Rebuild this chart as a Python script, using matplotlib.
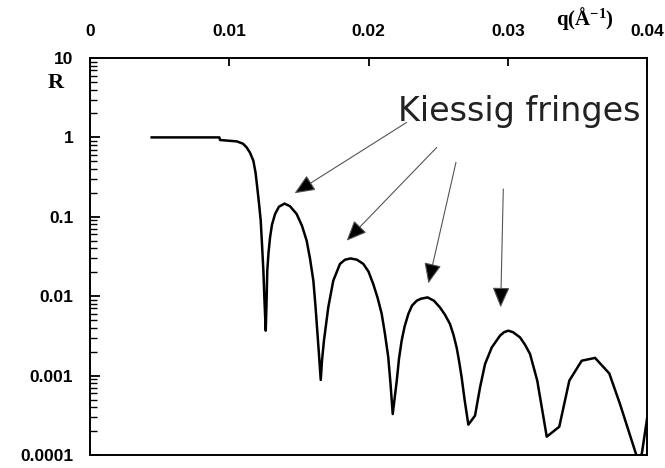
import matplotlib
matplotlib.use("Agg")
import matplotlib.pyplot as plt
import numpy as np

plt.rcParams['mathtext.default'] = 'regular'

# Reflectivity curve (q in 1/Angstrom, R)
q = [0.00443, 0.00929, 0.00934, 0.01054, 0.01099, 0.01125, 0.01149, 0.01173,
     0.01189, 0.01201, 0.01214, 0.01226, 0.01235, 0.01245, 0.01253, 0.01262,
     0.01268, 0.01273, 0.01282, 0.01293, 0.01307, 0.01329, 0.01357, 0.01397,
     0.01436, 0.01484, 0.01522, 0.01556, 0.01580, 0.01604, 0.01619, 0.01632,
     0.01645, 0.01657, 0.01666, 0.01680, 0.01711, 0.01747, 0.01795, 0.01831,
     0.01872, 0.01917, 0.01963, 0.02000, 0.02034, 0.02065, 0.02095, 0.02118,
     0.02142, 0.02158, 0.02174, 0.02203, 0.02219, 0.02238, 0.02259, 0.02286,
     0.02312, 0.02346, 0.02377, 0.02424, 0.02470, 0.02513, 0.02549, 0.02585,
     0.02610, 0.02633, 0.02650, 0.02669, 0.02689, 0.02717, 0.02765, 0.02801,
     0.02837, 0.02885, 0.02944, 0.02973, 0.03004, 0.03038, 0.03088, 0.03124,
     0.03160, 0.03212, 0.03280, 0.03370, 0.03442, 0.03531, 0.03627, 0.03729,
     0.03806, 0.03921, 0.03943, 0.03964, 0.04000]
R = [1.0, 1.0, 0.927, 0.891, 0.833, 0.748, 0.642, 0.509,
     0.359, 0.235, 0.146, 0.0893, 0.0458, 0.0210, 0.00877, 0.00368,
     0.00877, 0.0210, 0.0353, 0.0550, 0.0796, 0.1085, 0.134, 0.1466,
     0.136, 0.1085, 0.0773, 0.0500, 0.0297, 0.01567, 0.00759, 0.00368,
     0.00178, 0.000881, 0.00154, 0.00275, 0.00723, 0.01567, 0.0255, 0.0288,
     0.0299, 0.0288, 0.0255, 0.0204, 0.01425, 0.00958, 0.00597, 0.00337,
     0.001695, 0.000791, 0.000328, 0.000863, 0.00163, 0.00275, 0.00413, 0.00597,
     0.00759, 0.00877, 0.00930, 0.00966, 0.00877, 0.00723, 0.00585, 0.00447,
     0.00327, 0.00226, 0.00154, 0.000949, 0.000512, 0.000241, 0.000313, 0.000710,
     0.00140, 0.00226, 0.00318, 0.00352, 0.00368, 0.00352, 0.00303, 0.00245,
     0.00187, 0.000863, 0.000170, 0.000227, 0.000863, 0.00154, 0.00167, 0.001066,
     0.000439, 0.000103, 0.00008, 0.000107, 0.000284]

x_ticks = [0, 0.01, 0.02, 0.03, 0.04]
x_ticklabels = ['0', '0.01', '0.02', '0.03', '0.04']
y_ticks = [1e-4, 1e-3, 1e-2, 1e-1, 1, 10]
y_ticklabels = ['0.0001', '0.001', '0.01', '0.1', '1', '10']

annot_text = 'Kiessig fringes'
arrow_tails = [(0.02274, 1.545), (0.0249, 0.748), (0.02628, 0.484), (0.02968, 0.224)]
arrow_tips = [(0.01469, 0.198), (0.01843, 0.050), (0.0243, 0.0145), (0.02949, 0.00723)]

fig = plt.figure(figsize=(6.65, 4.68), dpi=100)
ax = fig.add_axes([90/665, 13/468, 557/665, 397/468])

ax.plot(q, R, color='black', lw=1.8, solid_joinstyle='round')
ax.set_yscale('log')
ax.set_xlim(0, 0.04)
ax.set_ylim(1e-4, 10)

for s in ax.spines.values():
    s.set_linewidth(1.4)
    s.set_color('black')

# x axis on top
ax.xaxis.set_ticks_position('top')
ax.xaxis.set_label_position('top')
ax.set_xticks(x_ticks)
ax.set_xticklabels(x_ticklabels, fontfamily='Liberation Sans', fontweight='bold', fontsize=12.5)
ax.tick_params(axis='x', which='major', direction='in', length=6, width=1.3, pad=14, top=True, bottom=False)

ax.set_yticks(y_ticks)
ax.set_yticklabels(y_ticklabels, fontfamily='Liberation Sans', fontweight='bold', fontsize=12.5)
ax.yaxis.set_minor_locator(matplotlib.ticker.LogLocator(base=10, subs=np.arange(2, 10)))
ax.yaxis.set_minor_formatter(matplotlib.ticker.NullFormatter())
ax.tick_params(axis='y', which='major', direction='in', length=7, width=1.3, pad=12, right=False)
ax.tick_params(axis='y', which='minor', direction='in', length=5, width=1.0, right=False)

# axis labels
fig.text(56/665, 1 - 83/468, 'R', fontfamily='Liberation Serif', fontweight='bold',
         fontsize=16, ha='center', va='center')
fig.text(556/665, 1 - 25/468, 'q(Å$^{-1}$)', fontfamily='Liberation Serif', fontweight='bold',
         fontsize=15, ha='left', va='baseline')

# annotation
ax.text(0.989, 0.841, annot_text, transform=ax.transAxes, fontfamily='DejaVu Sans',
        fontsize=24, color='#222222', ha='right', va='baseline')
for tail, tip in zip(arrow_tails, arrow_tips):
    ax.annotate('', xy=tip, xytext=tail,
                arrowprops=dict(arrowstyle='-|>,head_length=0.7,head_width=0.3',
                                mutation_scale=18, lw=0.8, edgecolor='#555555',
                                facecolor='black', shrinkA=0, shrinkB=0))

fig.savefig('out.png', dpi=100)
